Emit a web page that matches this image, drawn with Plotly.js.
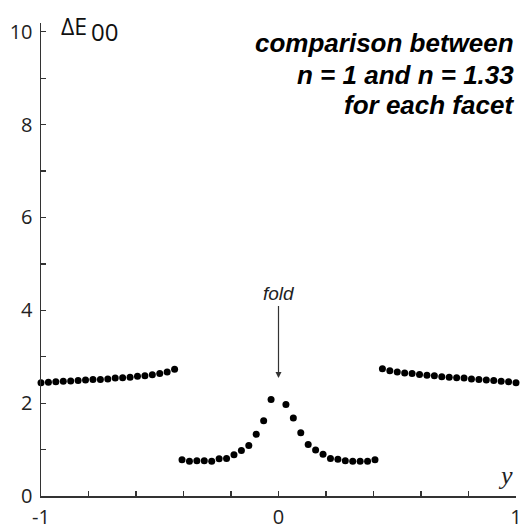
<!DOCTYPE html>
<html>
<head>
<meta charset="utf-8">
<script src="https://cdn.plot.ly/plotly-3.0.1.min.js"></script>
<style>html,body{margin:0;padding:0;background:#fff;}#chart{width:526px;height:529px;}</style>
</head>
<body>
<div id="chart"></div>
<script>
// Facet position y (steps of 1/32) and colour difference ΔE00
const leftY = [-1, -0.96875, -0.9375, -0.90625, -0.875, -0.84375, -0.8125, -0.78125, -0.75, -0.71875, -0.6875, -0.65625, -0.625, -0.59375, -0.5625, -0.53125, -0.5, -0.46875, -0.4375];
const leftDE = [2.44, 2.45, 2.46, 2.47, 2.48, 2.49, 2.50, 2.51, 2.51, 2.52, 2.54, 2.55, 2.56, 2.58, 2.59, 2.61, 2.64, 2.67, 2.73];

const midY = [-0.40625, -0.375, -0.34375, -0.3125, -0.28125, -0.25, -0.21875, -0.1875, -0.15625, -0.125, -0.09375, -0.0625, -0.03125,
              0.03125, 0.0625, 0.09375, 0.125, 0.15625, 0.1875, 0.21875, 0.25, 0.28125, 0.3125, 0.34375, 0.375, 0.40625];
const midDE = [0.78, 0.75, 0.76, 0.76, 0.75, 0.80, 0.81, 0.89, 0.98, 1.09, 1.33, 1.62, 2.08,
               1.97, 1.68, 1.36, 1.11, 0.99, 0.90, 0.81, 0.79, 0.76, 0.75, 0.75, 0.75, 0.78];

const rightY = [0.4375, 0.46875, 0.5, 0.53125, 0.5625, 0.59375, 0.625, 0.65625, 0.6875, 0.71875, 0.75, 0.78125, 0.8125, 0.84375, 0.875, 0.90625, 0.9375, 0.96875, 1];
const rightDE = [2.74, 2.70, 2.67, 2.65, 2.64, 2.62, 2.60, 2.59, 2.57, 2.56, 2.55, 2.54, 2.52, 2.51, 2.50, 2.49, 2.47, 2.46, 2.44];

const xTickLabels = [-1, 0, 1];
const yTickLabels = [0, 2, 4, 6, 8, 10];

const xs = leftY.concat([null], midY, [null], rightY);
const ys = leftDE.concat([null], midDE, [null], rightDE);

const axisFont = {family: "Open Sans, Noto Sans, sans-serif", size: 20, color: "#222"};

const data = [{
  x: xs, y: ys, type: "scatter", mode: "markers",
  marker: {color: "#000", size: 7},
  cliponaxis: false, hoverinfo: "skip"
}];

const titleFont = {family: "Liberation Sans, Arial, sans-serif", size: 26, color: "#000"};

const layout = {
  width: 526, height: 529,
  margin: {l: 41, r: 10, t: 23, b: 33},
  paper_bgcolor: "#fff", plot_bgcolor: "#fff",
  showlegend: false,
  xaxis: {
    range: [-1, 1], showgrid: false, zeroline: false,
    showline: true, linecolor: "#333", linewidth: 1.5,
    tickvals: xTickLabels, ticktext: xTickLabels.map(String),
    ticks: "inside", ticklen: 5, tickwidth: 1.2, tickcolor: "#333",
    minor: {dtick: 0.2, tick0: -1, ticks: "inside", ticklen: 5, tickwidth: 1.2, tickcolor: "#333", showgrid: false},
    tickfont: axisFont, ticklabelstandoff: 2, fixedrange: true
  },
  yaxis: {
    range: [0, 10.19], showgrid: false, zeroline: false,
    showline: true, linecolor: "#333", linewidth: 1.5,
    tickvals: yTickLabels, ticktext: yTickLabels.map(String),
    ticks: "inside", ticklen: 5, tickwidth: 1.2, tickcolor: "#333",
    minor: {dtick: 1, tick0: 0, ticks: "inside", ticklen: 5, tickwidth: 1.2, tickcolor: "#333", showgrid: false},
    tickfont: axisFont, ticklabelstandoff: 3, fixedrange: true
  },
  annotations: [
    {xref: "paper", yref: "paper", x: 0.038, y: 0.994, xanchor: "left", yanchor: "middle",
     text: "ΔE", showarrow: false, font: {family: "Open Sans, sans-serif", size: 23, color: "#111"}},
    {xref: "paper", yref: "paper", x: 0.102, y: 0.982, xanchor: "left", yanchor: "middle",
     text: "00", showarrow: false, font: {family: "Open Sans, sans-serif", size: 24, color: "#111"}},
    {xref: "paper", yref: "paper", x: 0.998, y: 0.043, xanchor: "right", yanchor: "middle",
     text: "y", showarrow: false, font: {family: "Liberation Serif, serif", size: 26, color: "#222", style: "italic"}},
    {xref: "paper", yref: "paper", x: 1.001, y: 0.958, xanchor: "right", yanchor: "middle",
     text: "<b><i>comparison between</i></b>", showarrow: false, font: titleFont},
    {xref: "paper", yref: "paper", x: 1.001, y: 0.891, xanchor: "right", yanchor: "middle",
     text: "<b><i>n = 1 and n = 1.33</i></b>", showarrow: false, font: titleFont},
    {xref: "paper", yref: "paper", x: 1.001, y: 0.827, xanchor: "right", yanchor: "middle",
     text: "<b><i>for each facet</i></b>", showarrow: false, font: titleFont},
    {x: 0, y: 2.54, xref: "x", yref: "y", text: "<i>fold</i>", showarrow: true,
     arrowhead: 2, arrowsize: 1, arrowwidth: 1.2, arrowcolor: "#333",
     ax: 0, ay: -72, standoff: 0, yanchor: "bottom",
     font: {family: "Liberation Sans Narrow, Liberation Sans, Arial, sans-serif", size: 19, color: "#222"}}
  ]
};

Plotly.newPlot("chart", data, layout, {displayModeBar: false, staticPlot: true});
</script>
</body>
</html>
